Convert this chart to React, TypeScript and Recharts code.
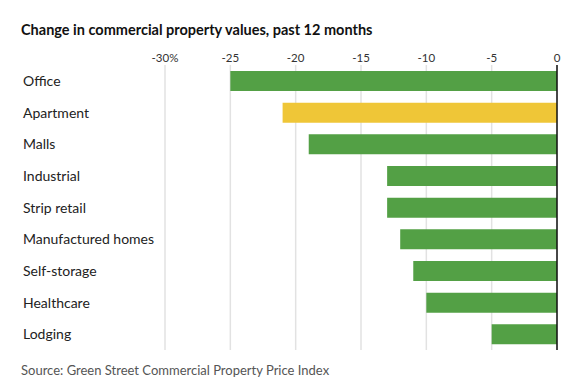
import { BarChart, Bar, XAxis, YAxis, CartesianGrid, ReferenceLine, Cell } from 'recharts';

const categories = [
    'Office',
    'Apartment',
    'Malls',
    'Industrial',
    'Strip retail',
    'Manufactured homes',
    'Self-storage',
    'Healthcare',
    'Lodging',
];
const changes = [-25, -21, -19, -13, -13, -12, -11, -10, -5];
const highlighted = ['Apartment'];
const xTicks = [-30, -25, -20, -15, -10, -5, 0];

const GREEN = '#53a045';
const GOLD = '#efc637';
const FONT = 'Lato, "Noto Sans", sans-serif';

const data = categories.map((name, i) => ({ name, value: changes[i] }));

const CategoryTick = ({ y, payload }: any) => (
    <text x={23} y={y} dy={5} textAnchor="start" fill="#222" fontSize={14} fontFamily={FONT}>
        {payload.value}
    </text>
);

const ValueTick = ({ x, y, payload }: any) => (
    <text x={x} y={y} dy={5} textAnchor="middle" fill="#333" fontSize={11.5} fontFamily={FONT}>
        {payload.value === -30 ? '-30%' : payload.value}
    </text>
);

export default function App() {
    return (
        <div style={{ position: 'absolute', left: 0, top: 0, width: 577, height: 390, background: '#fff' }}>
            <div
                style={{
                    position: 'absolute',
                    left: 21,
                    top: 21,
                    fontFamily: FONT,
                    fontWeight: 700,
                    fontSize: 14.5,
                    color: '#111',
                }}
            >
                Change in commercial property values, past 12 months
            </div>
            <BarChart
                width={577}
                height={390}
                data={data}
                layout="vertical"
                margin={{ top: 40, right: 20, bottom: 40, left: 0 }}
                barCategoryGap={6}
            >
                <CartesianGrid horizontal={false} stroke="#e2e2e2" strokeWidth={1.5} />
                <XAxis
                    type="number"
                    orientation="top"
                    domain={[-30, 0]}
                    ticks={xTicks}
                    axisLine={false}
                    tickLine={false}
                    height={25}
                    tick={<ValueTick />}
                />
                <YAxis
                    type="category"
                    dataKey="name"
                    width={165}
                    axisLine={false}
                    tickLine={false}
                    tick={<CategoryTick />}
                />
                <Bar dataKey="value" barSize={20} isAnimationActive={false}>
                    {data.map((entry) => (
                        <Cell key={entry.name} fill={highlighted.includes(entry.name) ? GOLD : GREEN} />
                    ))}
                </Bar>
                <ReferenceLine x={0} stroke="#111" strokeWidth={1.5} />
            </BarChart>
            <div
                style={{
                    position: 'absolute',
                    left: 21,
                    top: 362,
                    fontFamily: FONT,
                    fontSize: 13,
                    color: '#555',
                }}
            >
                Source: Green Street Commercial Property Price Index
            </div>
        </div>
    );
}
